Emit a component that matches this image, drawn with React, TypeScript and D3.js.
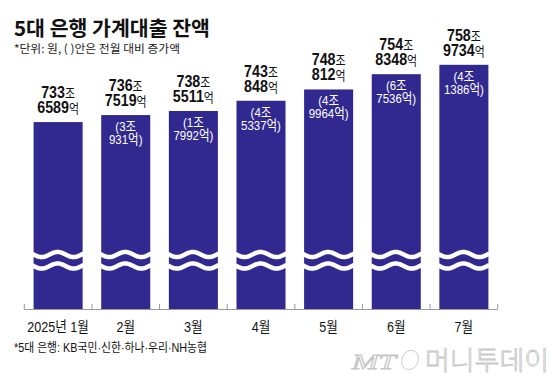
import * as d3 from "d3";
import { useEffect } from "react";

// 5대 은행 가계대출 잔액 (조 + 억)
const months = ["2025년 1월", "2월", "3월", "4월", "5월", "6월", "7월"];
const balanceJo = [733, 736, 738, 743, 748, 754, 758];
const balanceEok = [6589, 7519, 5511, 848, 812, 8348, 9734];
// 전월 대비 증가액
const incJo = [null, 3, 1, 4, 4, 6, 4];
const incEok = [null, 931, 7992, 5337, 9964, 7536, 1386];

const W = 560;
const H = 384;
const BAR = "#31298f";
const SANS = "'Liberation Sans', 'Noto Sans CJK KR', sans-serif";
const KR = "'Noto Sans CJK KR', sans-serif";

const values = balanceJo.map((j, i) => j + balanceEok[i] / 10000);

const x = d3.scaleBand<string>().domain(months).range([15, 507]).padding(0.275);
const y = d3.scaleLinear().domain([651, 760]).range([309, 62.5]);

// squiggly break mark drawn over each bar
const wave = (x0: number, bw: number, cy: number) => {
  const pts: [number, number][] = [];
  for (let t = -1; t <= bw + 1; t += 1) {
    pts.push([x0 + t, cy + 2.6 * Math.cos((2 * Math.PI * (t - 8)) / 32)]);
  }
  return d3.line().curve(d3.curveBasis)(pts) || "";
};

export default function App() {
  useEffect(() => {
    document.body.style.margin = "0";
  }, []);

  const bw = x.bandwidth();
  const gap = x.step() - bw;
  const ticks = months.map((m) => (x(m) as number) - gap / 2);
  ticks.push((x(months[months.length - 1]) as number) + bw + gap / 2);

  return (
    <svg width={W} height={H} style={{ display: "block", background: "#fff" }}>
      <text x={14} y={35.5} fontFamily={KR} fontWeight={700} fontSize={20.5} fill="#111"
        textLength={196} lengthAdjust="spacingAndGlyphs">
        5대 은행 가계대출 잔액
      </text>
      <text x={14} y={52.5} fontFamily={KR} fontSize={11.5} fill="#222"
        textLength={166} lengthAdjust="spacingAndGlyphs">
        *단위: 원, ( )안은 전월 대비 증가액
      </text>

      {months.map((m, i) => {
        const bx = x(m) as number;
        const top = y(values[i]);
        const cx = bx + bw / 2;
        return (
          <g key={m}>
            <rect x={bx} y={top} width={bw} height={y.range()[0] - top} fill={BAR} />
            <path d={wave(bx, bw, 254.5)} fill="none" stroke="#fff" strokeWidth={4.5} />
            <path d={wave(bx, bw, 266)} fill="none" stroke="#fff" strokeWidth={4.5} />
            <g transform={`translate(${cx},0) scale(0.84,1)`} fontFamily={SANS} fill="#111" textAnchor="middle">
              <text x={0} y={top - 24}>
                <tspan fontWeight={700} fontSize={17}>{balanceJo[i]}</tspan>
                <tspan fontSize={13}>조</tspan>
                <tspan x={0} dy={15} fontWeight={700} fontSize={17}>{balanceEok[i]}</tspan>
                <tspan fontSize={13}>억</tspan>
              </text>
            </g>
            {incJo[i] !== null && (
              <g transform={`translate(${cx},0) scale(0.85,1)`} fontFamily={SANS} fontSize={13.5} fill="#fff" textAnchor="middle">
                <text x={0} y={top + 16}>
                  <tspan>({incJo[i]}조</tspan>
                  <tspan x={0} dy={13}>{incEok[i]}억)</tspan>
                </text>
              </g>
            )}
            <g transform={`translate(${cx},0) scale(0.84,1)`}>
              <text x={0} y={332} textAnchor="middle" fontFamily={SANS} fontSize={15} fill="#111">
                {m}
              </text>
            </g>
          </g>
        );
      })}

      <line x1={ticks[0]} x2={ticks[ticks.length - 1]} y1={309.5} y2={309.5} stroke="#999" />
      {ticks.map((t, i) => (
        <line key={i} x1={t} x2={t} y1={304} y2={309.5} stroke="#999" />
      ))}

      <text x={14} y={352} fontFamily={SANS} fontSize={12.5} fill="#111"
        textLength={193} lengthAdjust="spacingAndGlyphs">
        *5대 은행: KB국민·신한·하나·우리·NH농협
      </text>

      <g fill="#fafafa" stroke="#c4c4c4" strokeWidth={0.8}>
        <text x={352} y={369} fontFamily="'Liberation Serif', serif" fontStyle="italic" fontSize={20}
          textLength={44} lengthAdjust="spacingAndGlyphs">MT</text>
        <ellipse cx={410} cy={360} rx={8} ry={10} fill="none" transform="rotate(25 410 360)" />
        <text x={425} y={370} fontFamily={KR} fontWeight={300} fontSize={26}
          textLength={124} lengthAdjust="spacingAndGlyphs">머니투데이</text>
      </g>
    </svg>
  );
}
